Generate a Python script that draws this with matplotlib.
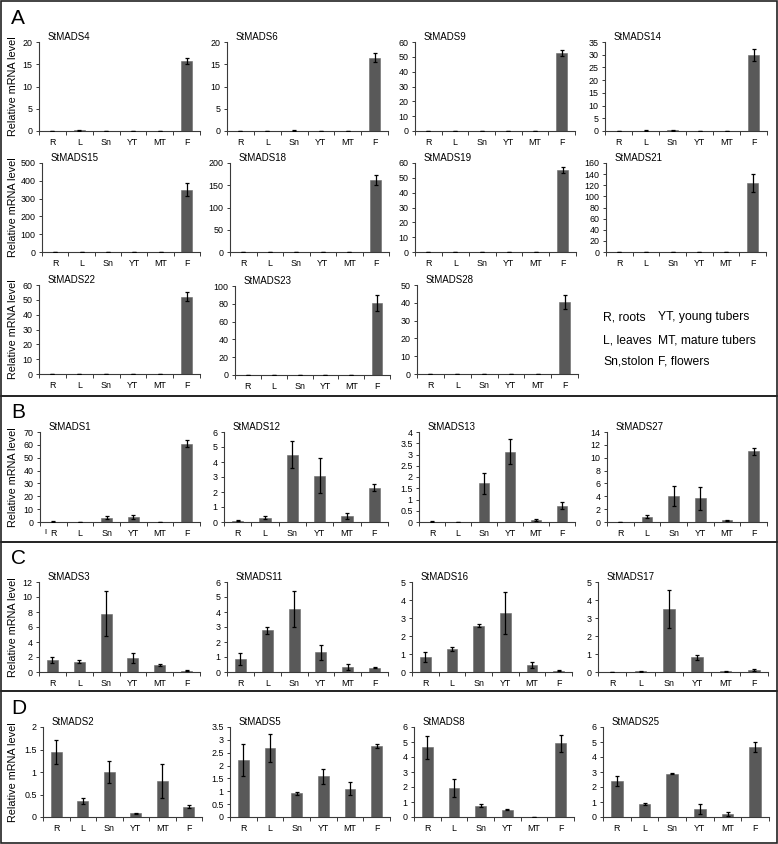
import matplotlib
matplotlib.use("Agg")
import matplotlib.pyplot as plt
from matplotlib.patches import Rectangle
import numpy as np

plt.rcParams['font.family'] = ['Liberation Sans', 'DejaVu Sans']

tissues = ["R", "L", "Sn", "YT", "MT", "F"]

# ---- data (mean, error) ----
StMADS4_m = [0.05, 0.2, 0.05, 0.05, 0.05, 15.7];  StMADS4_e = [0.02, 0.1, 0.02, 0.02, 0.02, 0.7]
StMADS6_m = [0.05, 0.05, 0.1, 0.05, 0.05, 16.5];  StMADS6_e = [0.02, 0.02, 0.05, 0.02, 0.02, 1.0]
StMADS9_m = [0.1, 0.1, 0.15, 0.1, 0.1, 52.5];     StMADS9_e = [0.05, 0.05, 0.05, 0.05, 0.05, 2.0]
StMADS14_m = [0.05, 0.1, 0.3, 0.05, 0.05, 29.8];  StMADS14_e = [0.02, 0.1, 0.2, 0.02, 0.02, 2.3]
StMADS15_m = [0.5, 0.5, 0.5, 0.5, 0.5, 350];      StMADS15_e = [0.2, 0.2, 0.2, 0.2, 0.2, 35]
StMADS18_m = [0.3, 0.3, 0.3, 0.3, 0.3, 162];      StMADS18_e = [0.1, 0.1, 0.1, 0.1, 0.1, 12]
StMADS19_m = [0.1, 0.1, 0.1, 0.1, 0.1, 55];       StMADS19_e = [0.05, 0.05, 0.05, 0.05, 0.05, 2.0]
StMADS21_m = [0.3, 0.3, 0.3, 0.3, 0.3, 124];      StMADS21_e = [0.1, 0.1, 0.1, 0.1, 0.1, 16]
StMADS22_m = [0.1, 0.1, 0.1, 0.1, 0.1, 52];       StMADS22_e = [0.05, 0.05, 0.05, 0.05, 0.05, 3.0]
StMADS23_m = [0.2, 0.2, 0.2, 0.2, 0.2, 81];       StMADS23_e = [0.1, 0.1, 0.1, 0.1, 0.1, 9.0]
StMADS28_m = [0.1, 0.1, 0.1, 0.1, 0.1, 40.5];     StMADS28_e = [0.05, 0.05, 0.05, 0.05, 0.05, 4.0]

StMADS1_m = [0.3, 0.1, 3.5, 4.0, 0.2, 61];        StMADS1_e = [0.1, 0.05, 1.5, 1.5, 0.1, 2.5]
StMADS12_m = [0.1, 0.3, 4.5, 3.1, 0.42, 2.3];     StMADS12_e = [0.05, 0.07, 0.9, 1.15, 0.2, 0.25]
StMADS13_m = [0.02, 0.0, 1.72, 3.13, 0.1, 0.72];  StMADS13_e = [0.01, 0.0, 0.48, 0.57, 0.05, 0.15]
StMADS27_m = [0.02, 0.85, 4.05, 3.7, 0.25, 11.0]; StMADS27_e = [0.01, 0.2, 1.5, 1.8, 0.1, 0.5]

StMADS3_m = [1.65, 1.4, 7.75, 1.85, 0.95, 0.2];   StMADS3_e = [0.4, 0.15, 3.0, 0.65, 0.1, 0.05]
StMADS11_m = [0.88, 2.78, 4.22, 1.33, 0.35, 0.28]; StMADS11_e = [0.4, 0.22, 1.2, 0.5, 0.2, 0.04]
StMADS16_m = [0.85, 1.28, 2.58, 3.27, 0.4, 0.07]; StMADS16_e = [0.27, 0.13, 0.07, 1.17, 0.15, 0.02]
StMADS17_m = [0.01, 0.04, 3.48, 0.82, 0.03, 0.11]; StMADS17_e = [0.01, 0.02, 1.05, 0.13, 0.02, 0.03]

StMADS2_m = [1.44, 0.36, 1.0, 0.08, 0.8, 0.23];   StMADS2_e = [0.27, 0.06, 0.25, 0.01, 0.37, 0.03]
StMADS5_m = [2.22, 2.69, 0.92, 1.58, 1.1, 2.75];  StMADS5_e = [0.63, 0.55, 0.05, 0.3, 0.25, 0.07]
StMADS8_m = [4.65, 1.92, 0.75, 0.5, 0.02, 4.92];  StMADS8_e = [0.75, 0.6, 0.1, 0.05, 0.01, 0.58]
StMADS25_m = [2.42, 0.87, 2.88, 0.55, 0.2, 4.68]; StMADS25_e = [0.32, 0.07, 0.04, 0.32, 0.13, 0.32]

# y-axis ticks per gene (max, step)
yaxes = {
    "StMADS4": (20, 5), "StMADS6": (20, 5), "StMADS9": (60, 10), "StMADS14": (35, 5),
    "StMADS15": (500, 100), "StMADS18": (200, 50), "StMADS19": (60, 10), "StMADS21": (160, 20),
    "StMADS22": (60, 10), "StMADS23": (100, 20), "StMADS28": (50, 10),
    "StMADS1": (70, 10), "StMADS12": (6, 1), "StMADS13": (4, 0.5), "StMADS27": (14, 2),
    "StMADS3": (12, 2), "StMADS11": (6, 1), "StMADS16": (5, 1), "StMADS17": (5, 1),
    "StMADS2": (2, 0.5), "StMADS5": (3.5, 0.5), "StMADS8": (6, 1), "StMADS25": (6, 1),
}
values = {
    "StMADS4": (StMADS4_m, StMADS4_e), "StMADS6": (StMADS6_m, StMADS6_e),
    "StMADS9": (StMADS9_m, StMADS9_e), "StMADS14": (StMADS14_m, StMADS14_e),
    "StMADS15": (StMADS15_m, StMADS15_e), "StMADS18": (StMADS18_m, StMADS18_e),
    "StMADS19": (StMADS19_m, StMADS19_e), "StMADS21": (StMADS21_m, StMADS21_e),
    "StMADS22": (StMADS22_m, StMADS22_e), "StMADS23": (StMADS23_m, StMADS23_e),
    "StMADS28": (StMADS28_m, StMADS28_e),
    "StMADS1": (StMADS1_m, StMADS1_e), "StMADS12": (StMADS12_m, StMADS12_e),
    "StMADS13": (StMADS13_m, StMADS13_e), "StMADS27": (StMADS27_m, StMADS27_e),
    "StMADS3": (StMADS3_m, StMADS3_e), "StMADS11": (StMADS11_m, StMADS11_e),
    "StMADS16": (StMADS16_m, StMADS16_e), "StMADS17": (StMADS17_m, StMADS17_e),
    "StMADS2": (StMADS2_m, StMADS2_e), "StMADS5": (StMADS5_m, StMADS5_e),
    "StMADS8": (StMADS8_m, StMADS8_e), "StMADS25": (StMADS25_m, StMADS25_e),
}

legend_left = ["R, roots", "L, leaves", "Sn,stolon"]
legend_right = ["YT, young tubers", "MT, mature tubers", "F, flowers"]

# ---- layout in pixels: name -> (left, right, top, bottom) ----
W, H = 778, 844
layout = {
    "StMADS4": (39, 200, 42, 131), "StMADS6": (227, 388, 42, 131),
    "StMADS9": (415, 575, 42, 131), "StMADS14": (605, 767, 42, 131),
    "StMADS15": (42, 200, 163, 252), "StMADS18": (230, 389, 163, 252),
    "StMADS19": (415, 576, 163, 252), "StMADS21": (606, 766, 163, 252),
    "StMADS22": (39, 200, 285, 374), "StMADS23": (235, 390, 286, 375),
    "StMADS28": (417, 578, 285, 374),
    "StMADS1": (40, 200, 432, 522), "StMADS12": (224, 388, 432, 522),
    "StMADS13": (419, 575, 432, 522), "StMADS27": (607, 767, 432, 522),
    "StMADS3": (39, 200, 582, 672), "StMADS11": (227, 388, 582, 672),
    "StMADS16": (412, 572, 582, 672), "StMADS17": (598, 768, 582, 672),
    "StMADS2": (43, 202, 727, 817), "StMADS5": (230, 390, 727, 817),
    "StMADS8": (414, 574, 727, 817), "StMADS25": (603, 769, 727, 817),
}
first_col = ["StMADS4", "StMADS15", "StMADS22", "StMADS1", "StMADS3", "StMADS2"]

BAR = '#595959'
AX = '#3a3a3a'

fig = plt.figure(figsize=(W / 100, H / 100), dpi=100)


def fmt(v):
    return f"{v:g}"


for name, (l, r, t, b) in layout.items():
    ax = fig.add_axes([l / W, 1 - b / H, (r - l) / W, (b - t) / H])
    m, e = values[name]
    x = np.arange(1, 7)
    ax.bar(x, m, width=0.41, color=BAR, edgecolor='#6a6a6a', linewidth=0.4, zorder=2)
    ax.errorbar(x, m, yerr=e, fmt='none', ecolor='black', elinewidth=0.9,
                capsize=1.6, capthick=0.9, zorder=3)
    ymax, step = yaxes[name]
    ticks = np.arange(0, ymax + step / 2, step)
    ax.set_ylim(0, ymax)
    ax.set_yticks(ticks)
    ax.set_yticklabels([fmt(v) for v in ticks])
    ax.set_xlim(0.5, 6.5)
    ax.set_xticks(np.arange(0.5, 7.0, 1.0))
    ax.set_xticklabels([])
    ax.set_xticks(x, minor=True)
    ax.set_xticklabels(tissues, minor=True)
    ax.tick_params(axis='x', which='major', direction='out', length=3, width=0.7, color=AX)
    ax.tick_params(axis='x', which='minor', length=0, labelsize=6.4, pad=5)
    ax.tick_params(axis='y', direction='out', length=2.5, width=0.7, color=AX,
                   labelsize=6.4, pad=2)
    for s in ['top', 'right']:
        ax.spines[s].set_visible(False)
    for s in ['left', 'bottom']:
        ax.spines[s].set_color(AX)
        ax.spines[s].set_linewidth(0.8)
    ax.patch.set_alpha(0)
    fig.text((l + 9) / W, 1 - (t - 5) / H, name, fontsize=7, ha='left', va='center')
    if name in first_col:
        fig.text(13 / W, 1 - ((t + b) / 2) / H, "Relative mRNA level", rotation=90,
                 fontsize=7.8, ha='center', va='center')

# stray mark before R in StMADS1 x labels
fig.text(45 / W, 1 - 532 / H, "l", fontsize=6, ha='center', va='center')

# legend text in panel A
for i, (a, bb) in enumerate(zip(legend_left, legend_right)):
    yy = [317, 340, 361][i]
    fig.text(603 / W, 1 - yy / H, a, fontsize=8.7, ha='left', va='center')
    fig.text(658 / W, 1 - yy / H, bb, fontsize=8.7, ha='left', va='center')

# panel boxes and letters
panels = [("A", 1, 396), ("B", 396, 542), ("C", 542, 691), ("D", 691, 843)]
for letter, y0, y1 in panels:
    fig.patches.append(Rectangle((1 / W, 1 - y1 / H), 775.5 / W, (y1 - y0) / H,
                                 transform=fig.transFigure, fill=False,
                                 edgecolor='#222222', linewidth=1.2))
    fig.text(11 / W, 1 - (y0 + 17) / H, letter, fontsize=15, ha='left', va='center')

fig.savefig("out.png", dpi=100)
